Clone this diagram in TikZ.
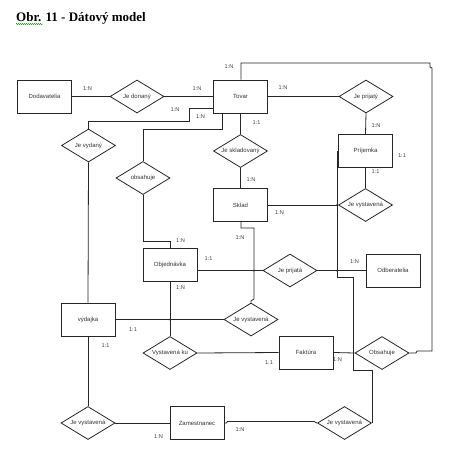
\documentclass[tikz,border=0pt]{standalone}
\usepackage{fontspec}
\setmainfont{Liberation Sans}
\newfontfamily\titlefont{Liberation Serif}
\usetikzlibrary{shapes.geometric,decorations.pathmorphing}
\begin{document}
\begin{tikzpicture}[x=1pt,y=-1pt,
  ent/.style={draw=black!85, line width=0.9pt, minimum width=54pt, minimum height=33pt, inner sep=0pt, font=\fontsize{6}{7}\selectfont, text=black!80},
  rel/.style={diamond, draw=black!85, line width=0.8pt, minimum width=54pt, minimum height=33pt, inner sep=0pt, aspect=1.64, font=\fontsize{6}{7}\selectfont, text=black!80},
  conn/.style={draw=black!85, line width=0.8pt},
  card/.style={font=\fontsize{5.6}{6}\selectfont, text=black!75, inner sep=0pt},
  jdot/.style={fill=black!85, circle, inner sep=0pt, minimum size=2pt}]
\useasboundingbox[fill=white] (0,0) rectangle (469,464);
% title
\node[anchor=base west, inner sep=0pt, font=\titlefont\bfseries\fontsize{13}{15}\selectfont] (title) at (16,21) {Obr. 11 - Dátový model};
\draw[green!60!black, line width=0.4pt, decorate, decoration={snake, amplitude=0.6pt, segment length=2pt}] (16,24) -- (43,24);
% entities
\node[ent] (dod) at (44.5,96.5) {Dodavatelia};
\node[ent] (tovar) at (240.5,96.5) {Tovar};
\node[ent] (prij) at (365.5,151) {Príjemka};
\node[ent] (sklad) at (240.5,205) {Sklad};
\node[ent] (obj) at (170,265) {Objednávka};
\node[ent] (odb) at (393,270.5) {Odberatelia};
\node[ent] (vyd) at (88,319.5) {výdajka};
\node[ent] (fakt) at (306,352.5) {Faktúra};
\node[ent] (zam) at (197,423) {Zamestnanec};
% relationships
\node[rel] (jdon) at (137,96.5) {Je donaný};
\node[rel] (jpty) at (366,96.5) {Je prijatý};
\node[rel] (jvyd) at (88.5,145.5) {Je vydaný};
\node[rel] (jskl) at (240.5,151) {Je skladovaný};
\node[rel] (obs1) at (143,178) {obsahuje};
\node[rel] (jvs1) at (365.5,205) {Je vystavená};
\node[rel] (jpta) at (290,270.5) {Je prijatá};
\node[rel] (jvs2) at (251,319.5) {Je vystavená};
\node[rel] (vku) at (170,353) {Vystavená ku};
\node[rel] (obs2) at (382,353) {Obsahuje};
\node[rel] (jvs3) at (88,423) {Je vystavená};
\node[rel] (jvs4) at (344.5,423) {Je vystavená};
% connectors
\draw[conn] (dod.east) -- (jdon.west);
\draw[conn] (jdon.east) -- (tovar.west);
\draw[conn] (tovar.west |- 0,108) -| (189,121) -| (jvyd.north);
\draw[conn] (tovar.south -| 222,0) |- (143,129) -- (obs1.north);
\draw[conn] (tovar.south) -- (jskl.north);
\draw[conn] (jskl.south) -- (sklad.north);
\draw[conn] (tovar.east) -- (jpty.west);
\draw[conn] (jpty.south) -- (prij.north);
\draw[conn] (tovar.north -| 241,0) |- (430,63) -- (430,67) -- (432,68) -- (432,351) -- (417,351) -- (416,353) -- (obs2.east);
\draw[conn] (prij.south) -- (jvs1.north);
\draw[conn] (sklad.east) -- (jvs1.west);
\draw[conn] (prij.west) -| (337,277) -| (353.5,370) -| (jvs4.east);
\draw[conn] (sklad.south -| 241,0) -- (241,228) -| (254,299) -- (251,301) -- (jvs2.north);
\draw[conn] (obj.east |- jpta.west) -- (jpta.west);
\draw[conn] (jpta.east) -- (odb.west);
\draw[conn] (obs1.south) |- (170,241) -- (obj.north);
\draw[conn] (obj.south) -- (vku.north);
\draw[conn] (vyd.east) -- (jvs2.west);
\draw[conn] (vku.east) -- (fakt.west);
\draw[conn] (fakt.east) -- (obs2.west);
\draw[conn] (jvyd.south) -- (vyd.north);
\draw[conn] (vyd.south) -- (jvs3.north);
\draw[conn] (jvs3.east) -- (zam.west);
\draw[conn] (zam.east) -- ++(2,0) -- ++(1,-1.5) -- (314,421.5) -- (jvs4.west);
% junction dots
\node[jdot] (d1) at (170,319.5) {};
\node[jdot] (d2) at (337,205) {};
\node[jdot] (d3) at (254,270.5) {};
\node[jdot] (d4) at (337,270.5) {};
% cardinalities
\node[card] (l1) at (87.5,88.5) {1:N};
\node[card] (l2) at (197,88.5) {1:N};
\node[card] (l3) at (175,110) {1:N};
\node[card] (l4) at (200.5,117) {1:N};
\node[card] (l5) at (256.5,123) {1:1};
\node[card] (l6) at (251,180) {1:N};
\node[card] (l7) at (283,88) {1:N};
\node[card] (l8) at (376,126) {1:N};
\node[card] (l9) at (229,67) {1:N};
\node[card] (l10) at (402,156) {1:1};
\node[card] (l11) at (375.5,172) {1:1};
\node[card] (l12) at (279.5,212.7) {1:N};
\node[card] (l13) at (240,237.7) {1:N};
\node[card] (l14) at (180.5,241) {1:N};
\node[card] (l15) at (208.5,259) {1:1};
\node[card] (l16) at (180.5,288) {1:N};
\node[card] (l17) at (354.5,261.7) {1:N};
\node[card] (l18) at (133,330) {1:1};
\node[card] (l19) at (105.5,346) {1:1};
\node[card] (l20) at (269,362.7) {1:1};
\node[card] (l21) at (337.5,359.3) {1:N};
\node[card] (l22) at (158.5,436.7) {1:N};
\node[card] (l23) at (240,429.3) {1:N};
\end{tikzpicture}
\end{document}
